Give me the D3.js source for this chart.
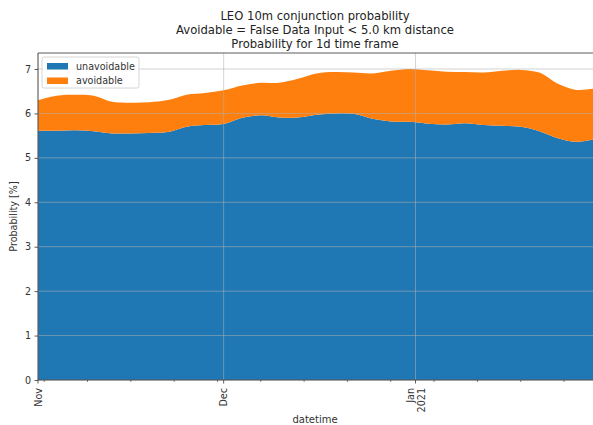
<!DOCTYPE html>
<html>
<head>
<meta charset="utf-8">
<script src="https://cdn.jsdelivr.net/npm/d3@7"></script>
<style>
  html, body { margin: 0; padding: 0; background: #fff; }
  svg { display: block; font-family: "DejaVu Sans", sans-serif; }
</style>
</head>
<body>
<svg id="chart" width="593" height="425"></svg>
<script>
// Sample dates: every third day from 1 Nov 2020 to 30 Jan 2021
const startDate = new Date(2020, 10, 1);
const dayStep = 3;
// Daily conjunction probability [%] split into unavoidable / avoidable parts
const unavoidable = [5.61, 5.61, 5.62, 5.60, 5.55, 5.55, 5.56, 5.58, 5.70, 5.74, 5.76,
                     5.90, 5.96, 5.91, 5.91, 5.97, 6.00, 5.99, 5.88, 5.82, 5.81,
                     5.77, 5.75, 5.78, 5.74, 5.72, 5.70, 5.60, 5.44, 5.36, 5.42];
const avoidable   = [0.69, 0.79, 0.80, 0.80, 0.71, 0.69, 0.69, 0.72, 0.72, 0.72, 0.76,
                     0.73, 0.73, 0.78, 0.87, 0.93, 0.93, 0.93, 1.02, 1.14, 1.19,
                     1.20, 1.19, 1.15, 1.18, 1.24, 1.28, 1.32, 1.23, 1.17, 1.14];
const seriesNames = ["unavoidable", "avoidable"];
const seriesColors = ["#1f77b4", "#ff7f0e"];
const yTicks = [0, 1, 2, 3, 4, 5, 6, 7];
const majorTicks = [new Date(2020, 10, 1), new Date(2020, 11, 1), new Date(2021, 0, 1)];
const majorLabels = [["Nov"], ["Dec"], ["Jan", "2021"]];
const titleLines = ["LEO 10m conjunction probability",
                    "Avoidable = False Data Input < 5.0 km distance",
                    "Probability for 1d time frame"];

const rows = unavoidable.map((u, i) => ({
  date: d3.timeDay.offset(startDate, i * dayStep),
  unavoidable: u,
  avoidable: avoidable[i]
}));

const svg = d3.select("#chart");
// The plot area runs to the right edge of the page
const m = { left: 38, right: 595, top: 53, bottom: 380 };
const titleX = 315;
const tickFont = 9.6;

const x = d3.scaleTime()
  .domain(d3.extent(rows, d => d.date))
  .range([m.left, m.right]);
const y = d3.scaleLinear()
  .domain([0, 7.36])
  .range([m.bottom, m.top]);

const stacked = d3.stack().keys(seriesNames)(rows);
const area = d3.area()
  .x(d => x(d.data.date))
  .y0(d => y(d[0]))
  .y1(d => y(d[1]))
  .curve(d3.curveCatmullRom.alpha(0.5));

svg.append("g").selectAll("path")
  .data(stacked)
  .join("path")
  .attr("d", area)
  .attr("fill", (d, i) => seriesColors[i]);

// Grid lines drawn over the areas
const grid = svg.append("g").attr("stroke", "#b0b0b0").attr("stroke-opacity", 0.7).attr("stroke-width", 0.8);
grid.selectAll("line.h").data(yTicks).join("line")
  .attr("x1", m.left).attr("x2", m.right)
  .attr("y1", d => y(d)).attr("y2", d => y(d));
grid.selectAll("line.v").data(majorTicks).join("line")
  .attr("x1", d => x(d)).attr("x2", d => x(d))
  .attr("y1", m.top).attr("y2", m.bottom);

// Y axis
const yAxis = svg.append("g")
  .attr("transform", `translate(${m.left},0)`)
  .call(d3.axisLeft(y).tickValues(yTicks).tickSize(3.5).tickPadding(3.5).tickFormat(d3.format("d")));
yAxis.select(".domain").remove();
yAxis.selectAll("line").attr("stroke", "#333").attr("stroke-width", 0.8);
yAxis.selectAll("text").attr("font-size", tickFont).attr("fill", "#333").attr("font-family", "DejaVu Sans");

// X axis: weekly minor ticks (Mondays), monthly major ticks
const xAxisG = svg.append("g").attr("transform", `translate(0,${m.bottom})`);
const mondays = d3.timeMonday.range(x.domain()[0], x.domain()[1]);
xAxisG.selectAll("line.minor").data(mondays).join("line")
  .attr("x1", d => x(d)).attr("x2", d => x(d))
  .attr("y1", 0).attr("y2", 2)
  .attr("stroke", "#333").attr("stroke-width", 0.6);
xAxisG.selectAll("line.major").data(majorTicks).join("line")
  .attr("x1", d => x(d)).attr("x2", d => x(d))
  .attr("y1", 0).attr("y2", 3.5)
  .attr("stroke", "#333").attr("stroke-width", 0.8);
majorTicks.forEach((d, i) => {
  const lines = majorLabels[i];
  const t = xAxisG.append("text")
    .attr("transform", `translate(${x(d)},8) rotate(-90)`)
    .attr("text-anchor", "end")
    .attr("font-size", tickFont)
    .attr("fill", "#333");
  lines.forEach((ln, j) => {
    t.append("tspan")
      .attr("x", 0)
      .attr("y", (j - (lines.length - 1) / 2) * 11 + 3.5)
      .text(ln);
  });
});

// Spines
const spine = svg.append("g").attr("stroke", "#333").attr("stroke-width", 0.8).attr("fill", "none");
spine.append("line").attr("x1", m.left).attr("x2", m.left).attr("y1", m.top).attr("y2", m.bottom);
spine.append("line").attr("x1", m.left).attr("x2", m.right).attr("y1", m.top).attr("y2", m.top);
spine.append("line").attr("x1", m.left).attr("x2", m.right).attr("y1", m.bottom).attr("y2", m.bottom);

// Axis labels
svg.append("text")
  .attr("x", titleX).attr("y", 423)
  .attr("text-anchor", "middle").attr("font-size", 10).attr("fill", "#333")
  .text("datetime");
svg.append("text")
  .attr("transform", `translate(17,${(m.top + m.bottom) / 2}) rotate(-90)`)
  .attr("text-anchor", "middle").attr("font-size", 9.6).attr("fill", "#333")
  .text("Probability [%]");

// Title
svg.append("g").selectAll("text").data(titleLines).join("text")
  .attr("x", titleX)
  .attr("y", (d, i) => 20 + i * 14)
  .attr("text-anchor", "middle").attr("font-size", 11.6).attr("fill", "#222")
  .text(d => d);

// Legend
const legend = svg.append("g").attr("transform", "translate(42,57)");
legend.append("rect")
  .attr("width", 97).attr("height", 31).attr("rx", 2)
  .attr("fill", "#fff").attr("fill-opacity", 0.8)
  .attr("stroke", "#ccc").attr("stroke-width", 0.8);
seriesNames.forEach((name, i) => {
  legend.append("rect")
    .attr("x", 5).attr("y", 6 + i * 14.5)
    .attr("width", 21).attr("height", 6.5)
    .attr("fill", seriesColors[i]);
  legend.append("text")
    .attr("x", 34).attr("y", 12.5 + i * 14.5)
    .attr("font-size", tickFont).attr("fill", "#333")
    .text(name);
});
</script>
</body>
</html>
